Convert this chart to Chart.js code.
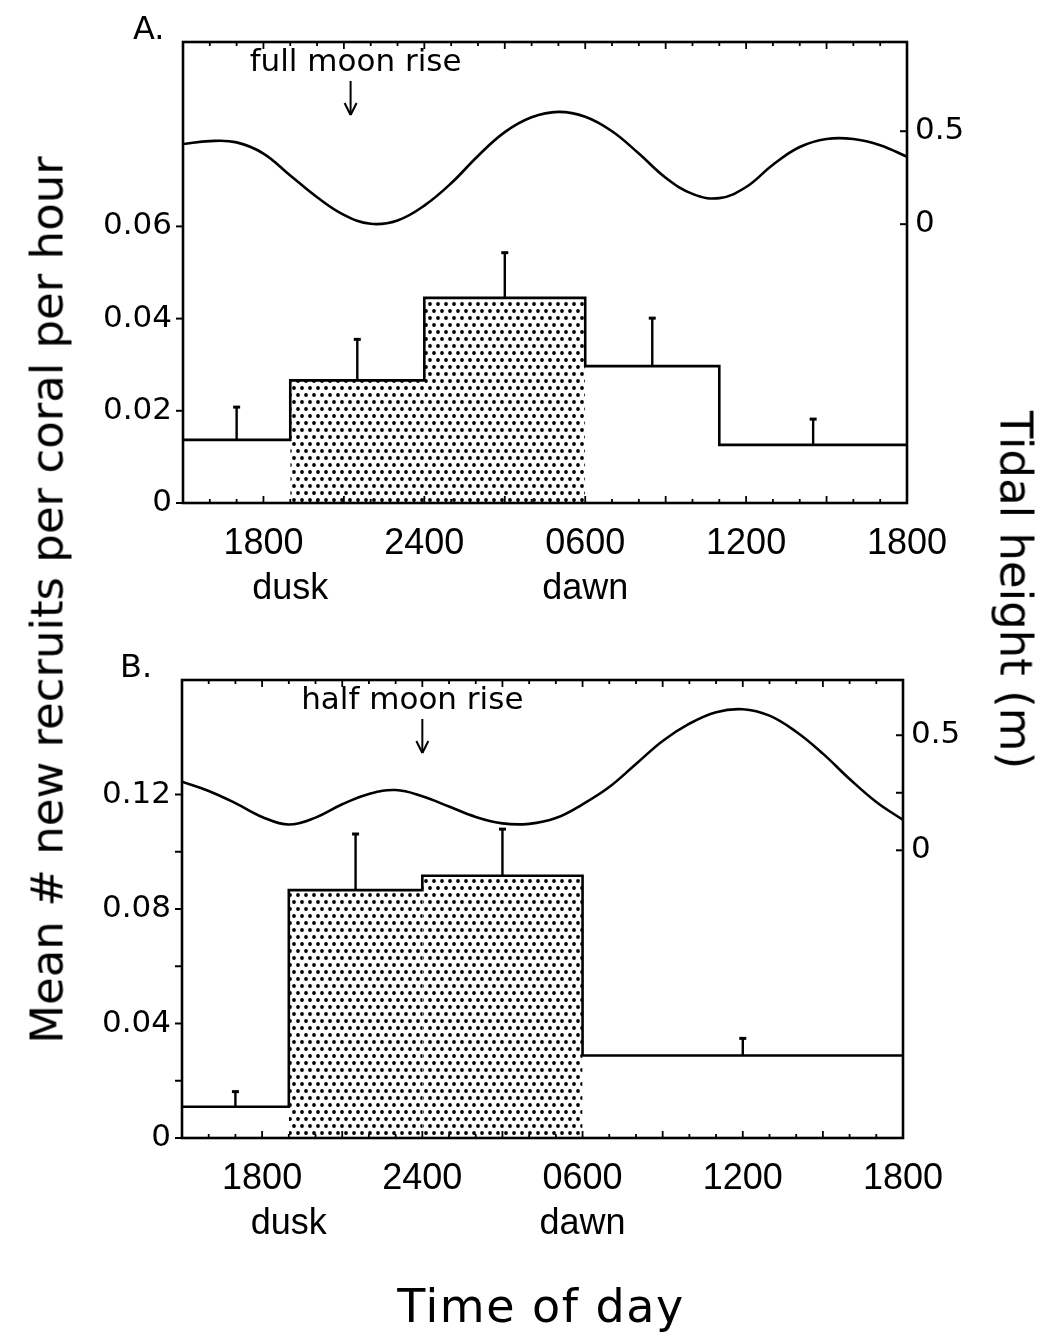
<!DOCTYPE html>
<html>
<head>
<meta charset="utf-8">
<script src="https://cdn.jsdelivr.net/npm/chart.js@4.4.0/dist/chart.umd.min.js"></script>
<style>
  html, body { margin: 0; padding: 0; background: #fff; }
  body { width: 1045px; height: 1336px; position: relative; overflow: hidden;
         font-family: "DejaVu Sans", sans-serif; color: #000; }
  canvas { position: absolute; left: 0; }
  #chartA { top: 0; }
  #chartB { top: 640px; }
  .title { position: absolute; white-space: nowrap; font-size: 45px; line-height: 1;
           transform-origin: center; }
  #yTitle { left: 47px; top: 600px; transform: translate(-50%, -50%) rotate(-90deg); }
  #y2Title { left: 1016px; top: 590px; transform: translate(-50%, -50%) rotate(90deg); }
  #xTitle { left: 541px; top: 1306px; transform: translate(-50%, -50%); letter-spacing: 1.5px; font-size: 46px; }
</style>
</head>
<body>
<canvas id="chartA" width="1045" height="640"></canvas>
<canvas id="chartB" width="1045" height="640"></canvas>
<div class="title" id="yTitle">Mean # new recruits per coral per hour</div>
<div class="title" id="y2Title">Tidal height (m)</div>
<div class="title" id="xTitle">Time of day</div>

<script>
// time is in hours, 15 = 1500 on day one, 42 = 1800 the next day
const hourMin = 15;
const hourMax = 42;
const timeTicks = [18, 24, 30, 36, 42];
const timeLabels = ["1800", "2400", "0600", "1200", "1800"];
const lightHours = [19, 30];
const lightLabels = ["dusk", "dawn"];

const tideHours = [15, 16, 17, 18, 19, 20, 21, 22, 23, 24, 25, 26, 27, 28,
                   29, 30, 31, 32, 33, 34, 35, 36, 37, 38, 39, 40, 41, 42];

// panel A - full moon
const binEdgesA = [15, 19, 24, 30, 35, 42];
const recruitsA = [0.0137, 0.0266, 0.0445, 0.0297, 0.0126];
const errorA = [0.0071, 0.0089, 0.0098, 0.0104, 0.0056];
const nightA = [false, true, true, false, false];
const tideA = [0.431, 0.447, 0.440, 0.380, 0.262, 0.145, 0.050, 0.002, 0.020, 0.100,
               0.220, 0.367, 0.495, 0.575, 0.604, 0.578, 0.500, 0.380, 0.250, 0.163,
               0.140, 0.200, 0.320, 0.415, 0.458, 0.458, 0.425, 0.363];
const moonRiseA = 21.25;
const leftTicksA = [0, 0.02, 0.04, 0.06];
const leftLabelsA = ["0", "0.02", "0.04", "0.06"];
const tideTicksA = [0, 0.5];
const tideLabelsA = ["0", "0.5"];

// panel B - half moon
const binEdgesB = [15, 19, 24, 30, 42];
const recruitsB = [0.0109, 0.0866, 0.0916, 0.0288];
const errorB = [0.0053, 0.0196, 0.0163, 0.0060];
const nightB = [false, true, true, false];
const tideB = [0.298, 0.258, 0.205, 0.145, 0.112, 0.142, 0.200, 0.245, 0.262, 0.235,
               0.190, 0.145, 0.117, 0.115, 0.140, 0.200, 0.275, 0.375, 0.475, 0.550,
               0.600, 0.613, 0.585, 0.515, 0.420, 0.310, 0.210, 0.132];
const moonRiseB = 24;
const leftTicksB = [0, 0.02, 0.04, 0.06, 0.08, 0.10, 0.12];
const leftLabelsB = ["0", "", "0.04", "", "0.08", "", "0.12"];
const tideTicksB = [0, 0.25, 0.5];
const tideLabelsB = ["0", "", "0.5"];

const tickFont = { family: "DejaVu Sans", size: 31 };
const timeFont = { family: "Liberation Sans", size: 36 };

// stipple used for the night bins
const tile = document.createElement("canvas");
tile.width = 8;
tile.height = 14;
const tg = tile.getContext("2d");
tg.fillStyle = "#000";
[[2, 3], [6, 10]].forEach(function (d) {
  tg.beginPath();
  tg.arc(d[0], d[1], 1.9, 0, Math.PI * 2);
  tg.fill();
});

function buildChart(id, p) {
  const ctx = document.getElementById(id).getContext("2d");
  const dots = ctx.createPattern(tile, "repeat");
  const n = p.means.length;

  const outline = p.means.map((m, i) => ({ x: p.edges[i], y: m }));
  outline.push({ x: p.edges[n], y: p.means[n - 1] });

  const datasets = [
    { data: outline, stepped: "before", borderColor: "#000", borderWidth: 2.6,
      pointRadius: 0, fill: false, yAxisID: "y" },
    { data: tideHours.map((h, i) => ({ x: h, y: p.tide[i] })),
      tension: 0.4, borderColor: "#000", borderWidth: 2.6,
      pointRadius: 0, fill: false, yAxisID: "y2" }
  ];
  p.night.forEach((isNight, i) => {
    if (!isNight) return;
    datasets.push({
      data: [{ x: p.edges[i], y: p.means[i] }, { x: p.edges[i + 1], y: p.means[i] }],
      borderWidth: 0, borderColor: "rgba(0,0,0,0)", backgroundColor: dots,
      fill: "origin", pointRadius: 0, yAxisID: "y"
    });
  });

  function line(x1, y1, x2, y2) {
    ctx.beginPath();
    ctx.moveTo(x1, y1);
    ctx.lineTo(x2, y2);
    ctx.stroke();
  }

  const decor = {
    id: "decor",
    afterDatasetsDraw(chart) {
      const a = chart.chartArea;
      const { x, y, y2 } = chart.scales;
      ctx.save();
      ctx.strokeStyle = "#000";
      ctx.fillStyle = "#000";

      // error bars (upper half only)
      p.means.forEach((m, i) => {
        const cx = x.getPixelForValue((p.edges[i] + p.edges[i + 1]) / 2);
        const y0 = y.getPixelForValue(m);
        const y1 = y.getPixelForValue(m + p.err[i]);
        ctx.lineWidth = 2.4;
        line(cx, y0, cx, y1);
        ctx.lineWidth = 3;
        line(cx - 3.5, y1, cx + 3.5, y1);
      });

      // frame
      ctx.lineWidth = 2.6;
      ctx.strokeRect(a.left, a.top, a.width, a.height);

      // hourly ticks, pointing in, on top and bottom
      ctx.lineWidth = 1.8;
      for (let h = hourMin + 1; h < hourMax; h++) {
        const px = x.getPixelForValue(h);
        const len = h % 3 === 0 ? 7 : 4;
        line(px, a.bottom, px, a.bottom - len);
        line(px, a.top, px, a.top + len);
      }
      // recruit ticks, pointing out
      ctx.lineWidth = 2;
      p.leftTicks.forEach(v => {
        const py = y.getPixelForValue(v);
        line(a.left, py, a.left - 7, py);
      });
      // tide ticks, pointing in
      p.tideTicks.forEach(v => {
        const py = y2.getPixelForValue(v);
        line(a.right, py, a.right - 7, py);
      });

      // dusk / dawn under the time labels
      ctx.font = timeFont.size + "px " + timeFont.family;
      ctx.textAlign = "center";
      ctx.textBaseline = "middle";
      lightHours.forEach((h, i) => {
        ctx.fillText(lightLabels[i], x.getPixelForValue(h), a.bottom + 86);
      });

      // moon rise note and arrow
      const mx = x.getPixelForValue(p.moonRise);
      ctx.font = "31px DejaVu Sans";
      ctx.fillText(p.moonText, mx + p.moonTextDx, a.top + 21);
      ctx.lineWidth = 2;
      line(mx, a.top + 39, mx, a.top + 73);
      line(mx - 6, a.top + 61, mx, a.top + 73);
      line(mx + 6, a.top + 61, mx, a.top + 73);

      // panel letter
      ctx.font = "32px DejaVu Sans";
      ctx.textAlign = "left";
      ctx.textBaseline = "alphabetic";
      ctx.fillText(p.letter, a.left + p.letterDx, a.top - 3);
      ctx.restore();
    }
  };

  return new Chart(ctx, {
    type: "line",
    data: { datasets: datasets },
    options: {
      responsive: false,
      animation: false,
      layout: { padding: { top: p.top, left: 0, right: 0, bottom: 0 } },
      plugins: { legend: { display: false }, tooltip: { enabled: false } },
      scales: {
        x: {
          type: "linear", min: hourMin, max: hourMax,
          afterBuildTicks: s => { s.ticks = timeTicks.map(v => ({ value: v })); },
          afterFit: s => { s.height = p.xHeight; },
          grid: { display: false, drawTicks: false },
          border: { display: false },
          ticks: { autoSkip: false, maxRotation: 0, padding: 19, color: "#000",
                   font: timeFont, callback: (v, i) => timeLabels[i] }
        },
        y: {
          position: "left", min: 0, max: p.yMax,
          afterBuildTicks: s => { s.ticks = p.leftTicks.map(v => ({ value: v })); },
          afterFit: s => { s.width = p.leftWidth; },
          grid: { display: false, drawTicks: false },
          border: { display: false },
          ticks: { padding: 11, color: "#000", font: tickFont,
                   callback: (v, i) => p.leftLabels[i] }
        },
        y2: {
          position: "right", min: p.tideMin, max: p.tideMax,
          afterBuildTicks: s => { s.ticks = p.tideTicks.map(v => ({ value: v })); },
          afterFit: s => { s.width = p.rightWidth; },
          grid: { display: false, drawTicks: false },
          border: { display: false },
          ticks: { padding: 8, color: "#000", font: tickFont,
                   callback: (v, i) => p.tideLabels[i] }
        }
      }
    },
    plugins: [decor]
  });
}

buildChart("chartA", {
  edges: binEdgesA, means: recruitsA, err: errorA, night: nightA, tide: tideA,
  leftTicks: leftTicksA, leftLabels: leftLabelsA,
  tideTicks: tideTicksA, tideLabels: tideLabelsA,
  yMax: 0.1, tideMin: -1.5, tideMax: 0.98,
  moonRise: moonRiseA, moonText: "full moon rise", moonTextDx: 5,
  letter: "A.", letterDx: -50,
  top: 42, leftWidth: 183, rightWidth: 138, xHeight: 137
});

buildChart("chartB", {
  edges: binEdgesB, means: recruitsB, err: errorB, night: nightB, tide: tideB,
  leftTicks: leftTicksB, leftLabels: leftLabelsB,
  tideTicks: tideTicksB, tideLabels: tideLabelsB,
  yMax: 0.16, tideMin: -1.25, tideMax: 0.74,
  moonRise: moonRiseB, moonText: "half moon rise", moonTextDx: -10,
  letter: "B.", letterDx: -62,
  top: 40, leftWidth: 182, rightWidth: 142, xHeight: 142
});
</script>
</body>
</html>
